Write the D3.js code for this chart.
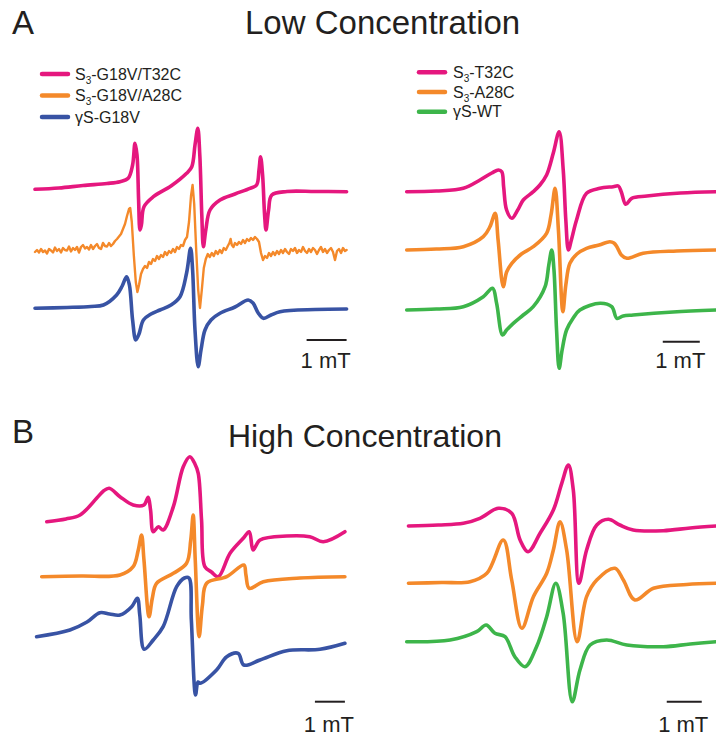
<!DOCTYPE html>
<html>
<head>
<meta charset="utf-8">
<script src="https://cdn.jsdelivr.net/npm/d3@7"></script>
<style>
  html, body { margin: 0; padding: 0; background: #fff; }
  svg { display: block; font-family: "Liberation Sans", Arial, Helvetica, sans-serif; }
</style>
</head>
<body>
<svg id="chart" width="716" height="737"></svg>
<script>
// ---------------- DATA ----------------
// Field offset in mT, signal in arbitrary units (traces stacked with vertical offsets)
const panelTitles = ["Low Concentration", "High Concentration"];
const panelLetters = ["A", "B"];
const legendLeft = [
  { pre: "S", sub: "3", post: "-G18V/T32C" },
  { pre: "S", sub: "3", post: "-G18V/A28C" },
  { pre: "\u03B3S-G18V", sub: "", post: "" }
];
const legendRight = [
  { pre: "S", sub: "3", post: "-T32C" },
  { pre: "S", sub: "3", post: "-A28C" },
  { pre: "\u03B3S-WT", sub: "", post: "" }
];
const scaleBarLabel = "1 mT";
const scaleBarLength = 1; // mT

// Panel A, left (low concentration, G18V variants)
const aLeftPink = [[0.00,190.7],[0.6,192],[1.2,194.5],[1.8,196.5],[2.125,198.3],[2.33,201.7],[2.44,215],[2.50,236.7],[2.55,225],[2.59,180],[2.625,150],[2.66,155],[2.725,173.3],[2.96,183.3],[3.4,194],[3.79,206.7],[3.92,213.3],[4.0,235],[4.07,251.7],[4.12,225],[4.17,165],[4.21,133.3],[4.27,150],[4.375,170],[4.625,180],[5.0,186],[5.375,191.7],[5.54,195],[5.60,210],[5.64,223.3],[5.69,205],[5.74,165],[5.775,150],[5.84,170],[5.92,185],[6.3,188.5],[7.0,188.5],[7.79,188.3]];
const aLeftOrange = [[0.00,128],[0.05,130],[0.10,127.5],[0.15,131],[0.20,128],[0.25,129.5],[0.30,126.5],[0.35,131],[0.40,129.5],[0.45,127.5],[0.50,132.5],[0.55,129],[0.60,131],[0.65,127.5],[0.70,132],[0.75,130],[0.80,129.5],[0.85,133.5],[0.90,128.5],[0.95,132],[1.00,130],[1.05,133],[1.10,127.5],[1.15,133],[1.20,135],[1.25,131.5],[1.30,133],[1.35,130.5],[1.40,135],[1.45,131],[1.50,134],[1.55,136],[1.60,132],[1.65,131],[1.70,137],[1.75,134],[1.80,133.5],[1.85,137],[1.90,134],[1.95,136],[2.00,139],[2.05,141],[2.10,143.5],[2.15,146],[2.20,151],[2.25,156],[2.30,164],[2.35,171],[2.38,172],[2.42,158],[2.47,125],[2.52,98],[2.56,88],[2.60,95],[2.65,106],[2.70,111],[2.75,114],[2.80,112],[2.85,118],[2.90,116],[2.95,121],[3.00,119],[3.05,124],[3.10,121],[3.15,125],[3.20,123],[3.25,128],[3.30,125],[3.35,129],[3.40,127],[3.45,131],[3.50,128],[3.55,133],[3.60,131],[3.65,135],[3.70,134],[3.75,140],[3.80,143],[3.85,158],[3.90,184],[3.94,195],[3.98,176],[4.03,130],[4.08,90],[4.125,72],[4.17,90],[4.22,112],[4.27,121],[4.32,126],[4.37,123],[4.42,127],[4.47,124],[4.52,129],[4.57,126],[4.62,130],[4.67,127],[4.72,132],[4.77,130],[4.82,134],[4.86,137],[4.89,141],[4.92,135],[4.96,133],[5.00,137],[5.05,135],[5.10,138],[5.15,136],[5.20,140],[5.25,137],[5.30,141],[5.35,139],[5.40,142],[5.45,140],[5.50,143],[5.55,141],[5.60,138],[5.65,127],[5.70,120],[5.75,124],[5.80,122],[5.85,127],[5.90,124],[5.95,128],[6.00,125],[6.05,129],[6.10,126],[6.15,130],[6.20,127],[6.25,131],[6.30,128],[6.35,126],[6.40,131],[6.45,129],[6.50,132],[6.55,127],[6.60,130],[6.65,128],[6.70,133],[6.75,129],[6.80,127],[6.85,131],[6.90,128],[6.95,132],[7.00,130],[7.05,126],[7.10,130],[7.15,133],[7.20,128],[7.25,131],[7.30,127],[7.35,130],[7.40,132],[7.45,128],[7.50,120],[7.55,129],[7.60,131],[7.65,127],[7.70,132],[7.75,129],[7.79,130]];
const aLeftBlue = [[0.00,71.7],[0.8,72.5],[1.4,73.5],[1.71,75],[2.04,85],[2.18,94],[2.29,103.3],[2.36,95],[2.44,60],[2.52,40],[2.60,46],[2.71,60],[2.9,66],[3.125,70],[3.4,75],[3.625,83.3],[3.79,107],[3.89,131.7],[3.94,110],[4.0,50],[4.08,13.3],[4.15,30],[4.25,50],[4.4,60],[4.625,66.7],[5.0,73],[5.33,80],[5.45,77],[5.58,67],[5.71,61.7],[5.9,65],[6.125,68.3],[7.0,70.5],[7.79,71]];

// Panel A, right (low concentration, WT variants)
const aRightPink = [[0,188.3],[0.8,189],[1.53,191.7],[1.98,200],[2.3,207],[2.48,210],[2.57,208.3],[2.62,193],[2.70,170],[2.84,161.7],[3.0,170],[3.15,180],[3.42,188.3],[3.6,195],[3.78,205],[3.96,226.7],[4.12,248.3],[4.23,210],[4.30,160],[4.37,130],[4.45,140],[4.59,160],[4.86,186.7],[5.22,191.7],[5.58,193.3],[5.72,194],[5.80,188],[5.92,175.7],[6.08,181.7],[6.49,184],[7.4,187],[8.38,188.3]];
const aRightOrange = [[0,130],[0.8,131],[1.53,133.3],[2.07,143.3],[2.25,153.3],[2.39,166.7],[2.47,140],[2.61,93.3],[2.70,108],[2.84,116.7],[3.1,126],[3.42,133.3],[3.78,146.7],[3.9,165],[4.01,191.7],[4.10,150],[4.22,68.3],[4.30,95],[4.41,116.7],[4.6,126],[4.86,131.7],[5.2,135],[5.49,138.3],[5.60,137],[5.68,133.3],[5.80,125],[5.95,121.7],[6.39,126.7],[7.3,129],[8.38,130]];
const aRightGreen = [[0,70],[0.8,71],[1.53,73.3],[2.07,83.3],[2.32,91.7],[2.43,76.7],[2.59,45],[2.70,50],[2.88,56.7],[3.15,65],[3.42,73.3],[3.74,93.3],[3.84,115],[3.92,130],[3.98,110],[4.05,50],[4.12,11.7],[4.20,30],[4.32,50],[4.5,62],[4.68,70],[5.23,76.7],[5.54,73.3],[5.68,61.7],[5.85,64],[6.12,65],[7.2,68],[8.38,70]];

// Panel B, left (high concentration, G18V variants)
const bLeftPink = [[0.36,188.3],[1.0,191],[1.47,195],[2.02,211.7],[2.25,219],[2.44,221.7],[2.8,213.3],[3.24,205],[3.6,205],[3.74,212.7],[3.82,200],[3.91,178.3],[4.08,183.3],[4.24,180],[4.58,203.3],[4.91,243.3],[5.13,253.3],[5.30,246],[5.41,236.7],[5.52,190],[5.63,143.3],[5.85,138],[6.08,133.3],[6.47,156.7],[6.91,171.7],[7.11,178.3],[7.24,160],[7.47,170],[8.36,174],[9.13,173.3],[9.58,168.3],[10.3,178.3]];
const bLeftOrange = [[0.19,133.3],[1.5,134],[2.8,135],[3.24,143.3],[3.41,160],[3.52,175],[3.60,150],[3.77,93.3],[3.88,112],[4.02,126.7],[4.58,136.7],[5.02,146.7],[5.16,170],[5.24,195],[5.31,150],[5.44,73.3],[5.55,105],[5.69,126.7],[6.36,133.3],[6.93,145],[7.00,135],[7.11,121.7],[7.58,128.3],[8.8,132],[10.3,133.3]];
const bLeftBlue = [[0.02,73.3],[1.13,80],[1.7,88],[2.13,97.3],[2.45,96],[2.8,95],[3.19,103.3],[3.38,111.7],[3.46,95],[3.61,60.7],[3.91,70],[4.24,83.3],[4.69,123.3],[4.95,132],[5.10,132],[5.18,90],[5.32,15],[5.40,28],[5.47,26.7],[6.02,40],[6.36,53.3],[6.74,56.7],[6.93,45],[7.47,50],[8.36,59.3],[9.47,60.7],[10.3,66.7]];

// Panel B, right (high concentration, WT variants)
const bRightPink = [[0.05,184],[0.9,185],[1.62,186.7],[2.09,191.7],[2.62,201.7],[3.0,196.7],[3.24,170],[3.47,158.3],[3.81,176.7],[4.19,200],[4.43,226.7],[4.62,245],[4.76,220],[4.92,126.7],[5.14,160],[5.43,185],[5.76,190.7],[6.09,185],[6.47,180],[7.33,179.3],[8.1,182],[8.86,184]];
const bRightOrange = [[0.05,126.7],[1.0,127.5],[1.81,128.3],[2.29,136.7],[2.76,170],[3.0,130],[3.29,81.7],[3.62,113.3],[4.0,136.7],[4.19,160],[4.38,188.3],[4.57,160],[4.87,68.3],[5.14,113.3],[5.43,130],[5.95,141.7],[6.19,130],[6.52,110],[7.05,121.7],[8.0,125.5],[8.86,126.7]];
const bRightGreen = [[0,68.3],[1.24,70],[2.0,78.3],[2.27,85],[2.52,76.7],[2.81,73.3],[3.09,53.3],[3.38,43.3],[3.71,63.3],[4.0,93.3],[4.26,126.7],[4.47,96.7],[4.73,8.3],[4.95,40],[5.24,65],[5.71,70],[6.29,65],[7.33,63.3],[8.1,66],[8.86,68.3]];

// scale-bar anchor positions (mT)
const scaleBarStart = [6.79, 6.92, 9.3, 7.43];

// ---------------- LAYOUT ----------------
const colors = { pink: "#e5177e", orange: "#f4892a", blue: "#3853a4", green: "#3db54a" };
const svg = d3.select("#chart");

const panels = [
  { id: "aL", xDom: [0, 7.8],   xRange: [35, 347],     yDom: [0, 260], yRange: [380, 120],
    traces: [{d: aLeftPink, c: colors.pink}, {d: aLeftOrange, c: colors.orange, noisy: true}, {d: aLeftBlue, c: colors.blue}],
    bar: { x: scaleBarStart[0], y: 40 }, labelBaseline: 368 },
  { id: "aR", xDom: [0, 8.38],  xRange: [406.7, 716.8], yDom: [0, 260], yRange: [380, 120],
    traces: [{d: aRightPink, c: colors.pink}, {d: aRightOrange, c: colors.orange}, {d: aRightGreen, c: colors.green}],
    bar: { x: scaleBarStart[1], y: 38.3 }, labelBaseline: 368 },
  { id: "bL", xDom: [0, 10.37], xRange: [36, 347],     yDom: [0, 270], yRange: [710, 440],
    traces: [{d: bLeftPink, c: colors.pink}, {d: bLeftOrange, c: colors.orange}, {d: bLeftBlue, c: colors.blue}],
    bar: { x: scaleBarStart[2], y: 8.3 }, labelBaseline: 732 },
  { id: "bR", xDom: [0, 8.86],  xRange: [406.7, 716.8], yDom: [0, 270], yRange: [710, 440],
    traces: [{d: bRightPink, c: colors.pink}, {d: bRightOrange, c: colors.orange}, {d: bRightGreen, c: colors.green}],
    bar: { x: scaleBarStart[3], y: 8.3 }, labelBaseline: 732 }
];

panels.forEach(p => {
  const x = d3.scaleLinear().domain(p.xDom).range(p.xRange);
  const y = d3.scaleLinear().domain(p.yDom).range(p.yRange);
  const g = svg.append("g").attr("class", "panel-" + p.id);
  p.traces.forEach(t => {
    const line = d3.line()
      .x(d => x(d[0])).y(d => y(d[1]))
      .curve(t.noisy ? d3.curveLinear : d3.curveCatmullRom.alpha(0.5));
    g.append("path")
      .datum(t.d)
      .attr("d", line)
      .attr("fill", "none")
      .attr("stroke", t.c)
      .attr("stroke-width", t.noisy ? 2.4 : 3.6)
      .attr("stroke-linejoin", "round")
      .attr("stroke-linecap", "round");
  });
  // scale bar
  g.append("line")
    .attr("x1", x(p.bar.x)).attr("x2", x(p.bar.x + scaleBarLength))
    .attr("y1", y(p.bar.y)).attr("y2", y(p.bar.y))
    .attr("stroke", "#231f20").attr("stroke-width", 2);
  g.append("text")
    .attr("x", (x(p.bar.x) + x(p.bar.x + scaleBarLength)) / 2 - 1)
    .attr("y", p.labelBaseline)
    .attr("text-anchor", "middle")
    .attr("font-size", 22)
    .attr("fill", "#231f20")
    .text(scaleBarLabel);
});

// letters & titles
svg.append("text").attr("x", 12).attr("y", 34).attr("font-size", 33).attr("fill", "#231f20").text(panelLetters[0]);
svg.append("text").attr("x", 245).attr("y", 34).attr("font-size", 33).attr("fill", "#231f20").text(panelTitles[0]);
svg.append("text").attr("x", 12).attr("y", 443).attr("font-size", 33).attr("fill", "#231f20").text(panelLetters[1]);
svg.append("text").attr("x", 228).attr("y", 447).attr("font-size", 32).attr("fill", "#231f20").text(panelTitles[1]);

// legends
function drawLegend(items, cols, x0, x1, tx, ys) {
  items.forEach((it, i) => {
    svg.append("line").attr("x1", x0).attr("x2", x1).attr("y1", ys[i]).attr("y2", ys[i])
      .attr("stroke", cols[i]).attr("stroke-width", 4.5).attr("stroke-linecap", "round");
    const t = svg.append("text").attr("x", tx).attr("y", ys[i] + 5.5).attr("font-size", 16).attr("fill", "#231f20");
    t.append("tspan").text(it.pre);
    if (it.sub) {
      t.append("tspan").attr("font-size", 10).attr("dy", 4).text(it.sub);
      t.append("tspan").attr("dy", -4).text(it.post);
    }
  });
}
drawLegend(legendLeft, [colors.pink, colors.orange, colors.blue], 42, 68, 75, [74, 95.5, 117]);
drawLegend(legendRight, [colors.pink, colors.orange, colors.green], 419, 445, 453, [72.3, 92, 111.7]);
</script>
</body>
</html>
